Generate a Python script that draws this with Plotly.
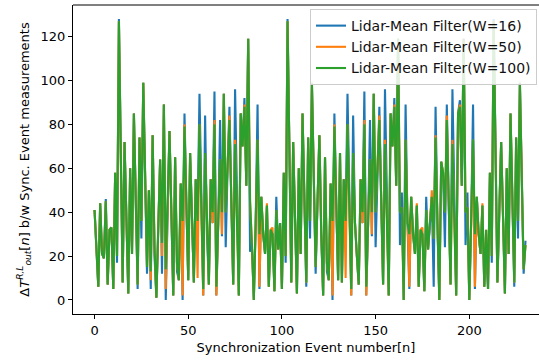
import plotly.graph_objects as go

# Synchronization event index
n_events = list(range(231))

# Lidar-Mean Filter (W=16)
w16 = [
    41, 23, 6, 44, 21, 19, 46, 7, 32, 33,
    5, 58, 17, 128, 68, 8, 72, 38, 3, 60,
    21, 85, 45, 5, 74, 28, 99, 55, 12, 50,
    5, 75, 20, 1, 32, 64, 12, 89, 0, 45,
    77, 40, 2, 65, 13, 9, 53, 0, 85, 44,
    9, 67, 38, 8, 55, 36, 94, 45, 2, 84,
    30, 7, 55, 35, 95, 2, 35, 82, 29, 94,
    24, 60, 88, 45, 7, 96, 40, 2, 85, 70,
    92, 52, 119, 22, 25, 0, 35, 89, 5, 47,
    30, 21, 43, 6, 32, 30, 4, 47, 23, 35,
    5, 58, 17, 128, 68, 8, 72, 38, 3, 60,
    21, 85, 45, 6, 74, 28, 99, 55, 12, 45,
    75, 30, 2, 65, 13, 9, 53, 0, 85, 44,
    9, 67, 8, 55, 36, 94, 45, 2, 84, 35,
    20, 7, 55, 35, 95, 2, 35, 82, 29, 94,
    24, 60, 88, 45, 7, 96, 40, 2, 85, 70,
    92, 52, 119, 25, 49, 0, 89, 35, 5, 47,
    30, 21, 43, 6, 32, 30, 4, 47, 23, 35,
    47, 6, 88, 35, 0, 63, 58, 24, 89, 45,
    7, 96, 40, 2, 85, 91, 52, 119, 25, 49,
    0, 35, 89, 5, 47, 30, 21, 43, 6, 21,
    5, 58, 17, 128, 70, 8, 40, 72, 38, 3,
    60, 21, 85, 45, 6, 74, 28, 99, 55, 12,
    27,
]

# Lidar-Mean Filter (W=50)
w50 = [
    41, 23, 6, 44, 21, 19, 45, 7, 32, 33,
    5, 58, 20, 127, 68, 8, 72, 38, 3, 60,
    21, 85, 45, 7, 74, 36, 99, 55, 15, 50,
    9, 75, 24, 1, 32, 64, 20, 89, 5, 45,
    77, 40, 2, 65, 17, 9, 53, 2, 80, 44,
    9, 67, 38, 8, 55, 10, 80, 45, 2, 67,
    30, 7, 55, 35, 82, 2, 35, 64, 30, 94,
    40, 60, 84, 45, 7, 73, 40, 2, 85, 70,
    89, 52, 119, 45, 25, 0, 35, 73, 6, 47,
    30, 21, 44, 6, 32, 33, 4, 41, 23, 35,
    5, 58, 20, 127, 68, 8, 72, 38, 3, 60,
    21, 85, 45, 8, 74, 36, 99, 55, 15, 45,
    75, 30, 2, 65, 17, 9, 53, 2, 80, 44,
    9, 67, 8, 55, 10, 80, 45, 2, 67, 35,
    20, 7, 55, 35, 82, 2, 35, 64, 30, 94,
    40, 60, 84, 45, 7, 73, 40, 2, 85, 70,
    89, 52, 119, 40, 42, 0, 73, 35, 6, 47,
    30, 21, 44, 6, 32, 33, 4, 41, 23, 35,
    50, 28, 75, 35, 0, 63, 58, 40, 84, 45,
    7, 73, 40, 2, 85, 89, 52, 119, 40, 42,
    0, 35, 73, 6, 47, 30, 21, 44, 6, 32,
    5, 58, 20, 127, 70, 8, 40, 72, 38, 3,
    60, 21, 85, 45, 8, 74, 36, 99, 55, 14,
    25,
]

# Lidar-Mean Filter (W=100)
w100 = [
    41, 23, 6, 44, 21, 19, 45, 7, 32, 33,
    5, 58, 20, 127, 68, 8, 72, 38, 3, 60,
    21, 85, 45, 7, 74, 36, 99, 55, 15, 50,
    13, 75, 24, 1, 32, 64, 26, 89, 14, 45,
    77, 40, 2, 65, 17, 9, 53, 36, 79, 44,
    9, 67, 38, 8, 55, 36, 80, 45, 5, 67,
    30, 7, 55, 40, 80, 6, 35, 64, 40, 94,
    40, 60, 82, 45, 7, 71, 40, 2, 85, 70,
    88, 52, 119, 45, 25, 0, 35, 73, 30, 47,
    30, 21, 43, 6, 32, 30, 4, 41, 23, 35,
    5, 58, 20, 127, 68, 8, 72, 38, 3, 60,
    21, 85, 45, 8, 74, 36, 99, 55, 15, 45,
    75, 30, 2, 65, 17, 9, 53, 36, 79, 44,
    9, 67, 8, 55, 36, 80, 45, 5, 67, 35,
    20, 7, 55, 40, 80, 6, 35, 64, 40, 94,
    40, 60, 82, 45, 7, 71, 40, 2, 85, 70,
    88, 52, 119, 40, 42, 0, 73, 35, 30, 47,
    30, 21, 43, 6, 32, 30, 4, 41, 23, 35,
    47, 28, 74, 35, 0, 63, 58, 40, 82, 45,
    7, 71, 40, 2, 85, 88, 52, 119, 40, 42,
    0, 35, 73, 30, 47, 30, 21, 43, 6, 32,
    5, 58, 20, 127, 70, 8, 40, 72, 38, 3,
    60, 21, 85, 45, 8, 74, 36, 99, 55, 14,
    25,
]

series_names = ["Lidar-Mean Filter(W=16)", "Lidar-Mean Filter(W=50)", "Lidar-Mean Filter(W=100)"]
series_colors = ["#1f77b4", "#ff7f0e", "#2ca02c"]
x_ticks = [0, 50, 100, 150, 200]
y_ticks = [0, 20, 40, 60, 80, 100, 120]

FONT = "DejaVu Sans"

fig = go.Figure()
for name, vals, col in zip(series_names, [w16, w50, w100], series_colors):
    fig.add_trace(go.Scatter(x=n_events, y=vals, mode="lines", name=name,
                             line=dict(color=col, width=2.1)))

fig.update_layout(
    width=539, height=362,
    margin=dict(l=73, r=0, t=5, b=48),
    plot_bgcolor="white", paper_bgcolor="white",
    font=dict(family=FONT, size=13, color="black"),
    showlegend=True,
    legend=dict(x=0.9957, y=0.987, xanchor="right", yanchor="top",
                bgcolor="rgba(255,255,255,0.85)", bordercolor="#cccccc", borderwidth=1,
                font=dict(family=FONT, size=14, color="#111111"),
                tracegroupgap=0, itemwidth=30),
    xaxis=dict(range=[-11.5, 237.2], tickvals=x_ticks, showgrid=False, zeroline=False,
               showline=True, linecolor="black", linewidth=1,
               ticks="outside", ticklen=4, tickcolor="black",
               tickfont=dict(family=FONT, size=13),
               title=dict(text="Synchronization Event number[n]", standoff=6,
                          font=dict(family=FONT, size=13))),
    yaxis=dict(range=[-6.4, 134.4], tickvals=y_ticks, showgrid=False, zeroline=False,
               showline=True, linecolor="black", linewidth=1,
               ticks="outside", ticklen=4, tickcolor="black",
               tickfont=dict(family=FONT, size=13),
               title=dict(text="Δ<i>T</i><sup><i>R,L</i></sup><sub><i>out</i></sub>[<i>n</i>] b/w Sync. Event measurements",
                          standoff=8, font=dict(family=FONT, size=13))),
)
fig.add_shape(type="line", xref="paper", yref="paper", x0=0, x1=1, y0=1, y1=1,
              line=dict(color="black", width=1))

fig.write_html("out.html")
